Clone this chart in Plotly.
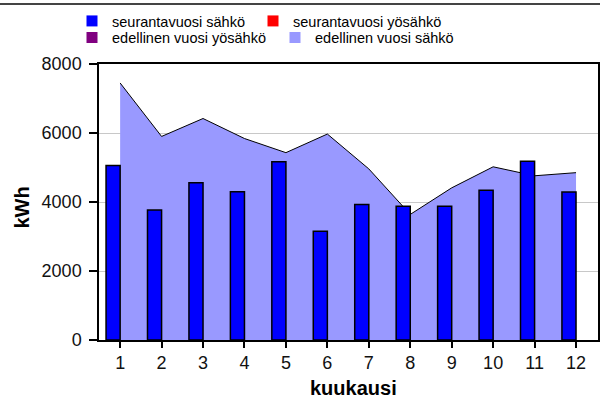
import plotly.graph_objects as go

months = [1, 2, 3, 4, 5, 6, 7, 8, 9, 10, 11, 12]
month_labels = ["1", "2", "3", "4", "5", "6", "7", "8", "9", "10", "11", "12"]
current_el = [5060, 3770, 4560, 4300, 5170, 3150, 3930, 3880, 3880, 4340, 5180, 4290]
previous_el = [7450, 5900, 6420, 5840, 5430, 5970, 4960, 3640, 4410, 5020, 4760, 4850]
y_ticks = [0, 2000, 4000, 6000, 8000]
legend_names = ["seurantavuosi sähkö", "seurantavuosi yösähkö",
                "edellinen vuosi yösähkö", "edellinen vuosi sähkö"]
legend_colors = ["#0000ff", "#ff0000", "#800080", "#9999ff"]

FONT = "Liberation Sans, Arial, sans-serif"
W, H = 600, 401
ML, MR, MT, MB = 99, 2, 64, 61
PW, PH = W - ML - MR, H - MT - MB


def px_x(p):
    return (p - ML) / PW


def px_y(p):
    return (H - MB - p) / PH


fig = go.Figure()

# previous year area (main axes)
fig.add_trace(go.Scatter(
    x=months, y=previous_el, mode="lines", fill="tozeroy",
    fillcolor="#9999ff", line=dict(color="black", width=1),
    showlegend=False, name="edellinen vuosi sähkö",
))

# current year bars on overlaying axis so they draw above the area
fig.add_trace(go.Bar(
    x=months, y=current_el, width=0.34, offset=-0.34,
    marker=dict(color="#0000ff", line=dict(color="black", width=1.5)),
    yaxis="y2", showlegend=False, name="seurantavuosi sähkö",
))

# legend entries, one legend each for precise placement
legend_pos = [(112, 21), (293, 21), (112, 37.5), (315, 37.5)]
legend_ids = ["legend", "legend2", "legend3", "legend4"]
for name, color, lg in zip(legend_names, legend_colors, legend_ids):
    fig.add_trace(go.Scatter(
        x=[None], y=[None], mode="markers", name=name,
        marker=dict(symbol="square", size=11, color=color),
        legend=lg, showlegend=True,
    ))

legend_layout = {}
for lg, (tx, ty) in zip(legend_ids, legend_pos):
    legend_layout[lg] = dict(
        orientation="h", xanchor="left", yanchor="middle",
        x=px_x(tx - 40), y=px_y(ty),
        font=dict(family=FONT, size=14.5, color="black"),
        bgcolor="rgba(0,0,0,0)", borderwidth=0, itemwidth=30,
    )

fig.update_layout(
    width=W, height=H,
    margin=dict(l=ML, r=MR, t=MT, b=MB, pad=0, autoexpand=False),
    paper_bgcolor="white", plot_bgcolor="white",
    barmode="overlay",
    font=dict(family=FONT, color="black"),
    xaxis=dict(
        range=[0.49, 12.53], tickmode="array", tickvals=months, ticktext=month_labels,
        showgrid=False, zeroline=False, showline=True, linecolor="black", linewidth=1.5,
        mirror=True, ticks="outside", ticklen=6, tickcolor="black", tickwidth=1.5,
        tickfont=dict(family=FONT, size=18, color="#111"),
    ),
    yaxis=dict(
        range=[0, 8000], tickmode="array", tickvals=y_ticks,
        showgrid=True, gridcolor="#c8c8c8", gridwidth=1, zeroline=False,
        showline=True, linecolor="black", linewidth=1.5, mirror=True,
        ticks="outside", ticklen=8, tickcolor="black", tickwidth=1.5,
        tickfont=dict(family=FONT, size=18, color="#111"), ticklabelstandoff=4,
    ),
    yaxis2=dict(
        range=[0, 8000], overlaying="y", visible=False, showgrid=False, zeroline=False,
    ),
    annotations=[
        dict(text="<b>kWh</b>", xref="paper", yref="paper", x=px_x(21.5), y=px_y(208),
             textangle=-90, showarrow=False, font=dict(family=FONT, size=20, color="black"),
             xanchor="center", yanchor="middle"),
        dict(text="<b>kuukausi</b>", xref="paper", yref="paper", x=px_x(353), y=px_y(388),
             showarrow=False, font=dict(family=FONT, size=20, color="black"),
             xanchor="center", yanchor="middle"),
    ],
    shapes=[
        dict(type="line", xref="paper", yref="paper", x0=px_x(0), x1=px_x(600),
             y0=px_y(4), y1=px_y(4), line=dict(color="#444", width=2),
             layer="above"),
    ],
    **legend_layout,
)

fig.write_html(
    "out.html",
    config={"displayModeBar": False},
    post_script="document.body.style.margin='0';document.body.style.padding='0';",
)
